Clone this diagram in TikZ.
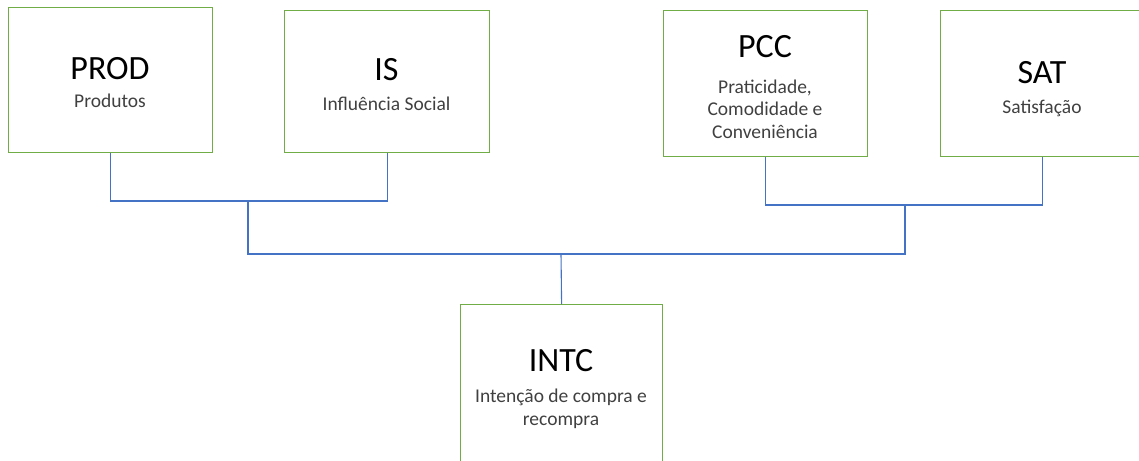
\documentclass[tikz,border=0pt]{standalone}
\usepackage{fontspec}
\setmainfont{Carlito}
\definecolor{boxgreen}{HTML}{70AD47}
\definecolor{lineblue}{HTML}{4472C4}
\definecolor{subgray}{HTML}{404040}
\tikzset{
  box/.style={draw=boxgreen, line width=1.2pt, anchor=north west, inner sep=0pt, minimum width=#1},
  title/.style={anchor=base, inner sep=0pt, text=black, font=\fontsize{34}{40}\selectfont},
  sub/.style={anchor=base, inner sep=0pt, text=subgray, align=center, font=\fontsize{19.5}{22.5}\selectfont},
  link/.style={draw=lineblue, line width=1.1pt}
}
\begin{document}
\begin{tikzpicture}[x=1pt,y=1pt]
\useasboundingbox (0,0) rectangle (1139,-460);
\clip (0,0) rectangle (1139,-460);
% boxes
\node[box=204pt, minimum height=145pt] (prod) at (8,-7) {};
\node[box=205pt, minimum height=142pt] (is) at (284,-10) {};
\node[box=204pt, minimum height=146pt] (pcc) at (663,-10) {};
\node[box=204pt, minimum height=146pt] (sat) at (940,-10) {};
\node[box=202pt, minimum height=180pt] (intc) at (460,-304) {};
% texts
\node[title] (prodt) at (110,-79) {PROD};
\node[sub] (prods) at (110,-107) {Produtos};
\node[title] (ist) at (386.5,-81) {IS};
\node[sub] (iss) at (386.5,-110) {Influência Social};
\node[title] (pcct) at (765,-58) {PCC};
\node[sub] (pccs) at (765,-138) {Praticidade,\\Comodidade e\\Conveniência};
\node[title] (satt) at (1042,-83) {SAT};
\node[sub] (sats) at (1042,-113) {Satisfação};
\node[title] (intct) at (561,-371) {INTC};
\node[sub] (intcs) at (561,-425) {Intenção de compra e\\recompra};
% junctions
\coordinate (j1) at (248,-201);
\coordinate (j2) at (905,-205);
\coordinate (j3) at (561,-254);
% connectors
\draw[link] (prod.south) |- (j1) -| (is.south);
\draw[link] (pcc.south) |- (j2) -| (sat.south);
\draw[link] (j1) |- (j3) -| (j2);
\draw[link] (j3) -- (intc.north);
\end{tikzpicture}
\end{document}
